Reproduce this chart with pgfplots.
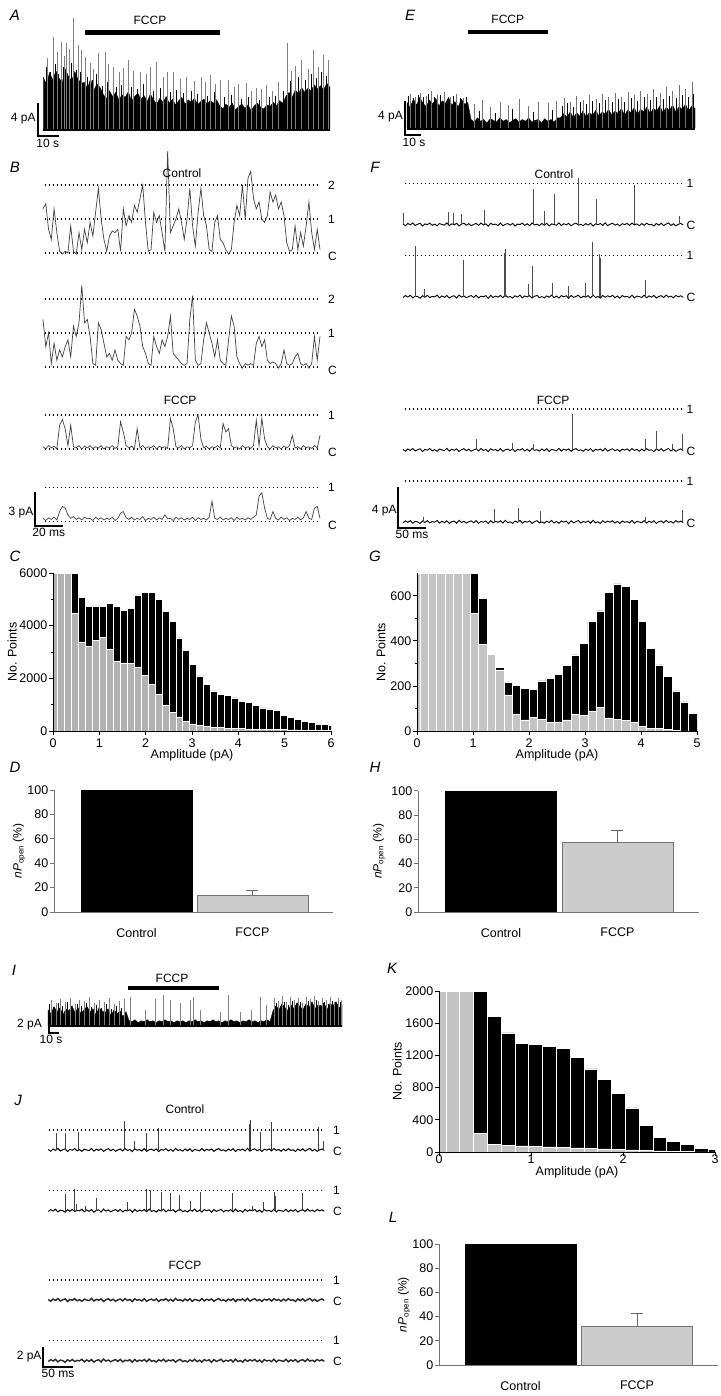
\documentclass[border=0pt]{standalone}
\usepackage{fontspec}
\setmainfont{Liberation Sans}
\usepackage{pgfplots}
\usepackage{pgfplotstable}
\pgfplotsset{compat=1.18}
\definecolor{hgray}{RGB}{178,178,178}
\definecolor{ggray}{RGB}{196,196,196}
\definecolor{bgray}{RGB}{204,204,204}
\tikzset{pl/.style={font=\fontsize{15}{15}\selectfont\itshape, anchor=center},
  lab/.style={anchor=west, inner sep=0pt}}
\pgfplotsset{
  trace/.style={hide axis, enlargelimits=false, clip=false, anchor=origin},
  lev/.style={black, line width=1.1pt, dash pattern=on 1.1pt off 2.9pt},
  tr/.style={black!75, line width=0.7pt},
  hist/.style={scale only axis, anchor=south west, axis lines=left, axis line style={-, line width=0.8pt},
    axis on top, tick align=outside, major tick length=4pt, minor tick length=2.5pt,
    tick style={black, line width=0.8pt}, enlargelimits=false,
    tick label style={font=\fontsize{12.5}{13}\selectfont}, label style={font=\fontsize{12.5}{13}\selectfont},
    yticklabel style={inner sep=1.5pt},
    /pgf/number format/assume math mode=true, /pgf/number format/1000 sep={},
    xlabel style={at={(rel axis cs:0.5,0)}, anchor=center, yshift=-24pt}},
  barax/.style={scale only axis, anchor=south west, axis lines=left, axis line style={-, black!55, line width=0.8pt},
    axis on top, tick align=outside, major tick length=4pt, ytick style={black!55, line width=0.8pt},
    xtick style={draw=none}, enlargelimits=false, ymin=0, ymax=100, ytick={0,20,40,60,80,100},
    xtick={1,2}, xticklabels={Control,FCCP}, tick label style={font=\fontsize{12.5}{13}\selectfont},
    xticklabel style={yshift=-8pt}, yticklabel style={inner sep=1.5pt},
    /pgf/number format/assume math mode=true,
    ylabel={\textit{nP}\textsubscript{open} (\%)}, label style={font=\fontsize{12}{13}\selectfont}, clip=false},
  ebar/.style={ybar, bar shift=0pt, bar width=111pt, fill=bgray, draw=black!55, line width=0.8pt,
    error bars/.cd, y dir=plus, y explicit, error bar style={black!60, line width=0.8pt},
    error mark options={rotate=90, black!60, mark size=6pt, line width=0.8pt}}
}
\begin{document}
\pgfplotstableread[row sep=\\]{y\\0.05\\-0.12\\0.10\\-0.04\\0.15\\-0.10\\0.02\\0.12\\-0.15\\0.06\\-0.02\\0.14\\-0.08\\0.04\\-0.13\\0.09\\0.00\\-0.06\\0.16\\-0.11\\0.07\\-0.03\\0.11\\-0.14\\0.03\\0.13\\-0.07\\0.08\\-0.12\\0.01\\0.10\\-0.09\\0.15\\-0.05\\0.06\\-0.16\\0.12\\-0.02\\0.04\\-0.10\\0.14\\-0.13\\0.02\\0.09\\-0.06\\0.11\\-0.15\\0.05\\-0.01\\0.13\\-0.09\\0.07\\-0.12\\0.16\\-0.04\\0.03\\-0.11\\0.10\\-0.07\\0.12\\-0.14\\0.06\\0.00\\-0.08\\0.15\\-0.10\\0.08\\-0.03\\0.11\\-0.13\\0.04\\0.14\\-0.06\\0.02\\-0.12\\0.09\\-0.05\\0.13\\-0.15\\0.07\\-0.02\\0.10\\-0.09\\0.16\\-0.11\\0.03\\0.12\\-0.07\\0.05\\-0.14\\0.08\\-0.01\\0.11\\-0.10\\0.14\\-0.04\\0.06\\-0.12\\0.09\\-0.08\\0.13\\-0.03\\0.02\\-0.15\\0.10\\-0.06\\0.12\\-0.11\\0.04\\0.15\\-0.09\\0.07\\-0.13\\0.01\\0.11\\-0.05\\}\noiseA
\pgfplotstableread[row sep=\\]{y\\-0.08\\0.11\\-0.03\\0.14\\-0.12\\0.06\\0.01\\-0.15\\0.10\\-0.05\\0.13\\-0.09\\0.04\\-0.02\\0.15\\-0.11\\0.08\\-0.06\\0.12\\-0.14\\0.03\\0.09\\-0.13\\0.16\\-0.04\\0.07\\-0.10\\0.02\\0.11\\-0.07\\0.14\\-0.12\\0.05\\-0.01\\0.10\\-0.15\\0.13\\-0.08\\0.06\\-0.03\\0.12\\-0.10\\0.16\\-0.06\\0.02\\-0.13\\0.09\\-0.04\\0.15\\-0.11\\0.07\\-0.02\\0.10\\-0.14\\0.04\\0.13\\-0.09\\0.01\\-0.12\\0.08\\-0.05\\0.15\\-0.10\\0.06\\-0.13\\0.11\\-0.01\\0.09\\-0.16\\0.12\\-0.07\\0.03\\0.14\\-0.11\\0.05\\-0.04\\0.10\\-0.12\\0.16\\-0.08\\0.02\\-0.14\\0.12\\-0.06\\0.09\\-0.02\\0.13\\-0.10\\0.07\\-0.15\\0.11\\-0.03\\0.04\\-0.09\\0.15\\-0.12\\0.06\\0.00\\-0.07\\0.14\\-0.11\\0.08\\-0.05\\0.12\\-0.13\\0.03\\0.10\\-0.08\\0.16\\-0.04\\0.05\\-0.10\\0.13\\-0.02\\0.09\\-0.06\\}\noiseB
\pgfplotstableread[row sep=\\]{y\\6.2\\5.4\\6.8\\5.9\\7.0\\6.1\\5.6\\7.2\\6.3\\5.8\\6.9\\6.0\\5.5\\5.6\\4.9\\6.0\\4.6\\5.4\\5.0\\4.2\\3.6\\4.6\\3.9\\4.4\\3.5\\4.1\\3.8\\4.5\\3.4\\3.9\\4.3\\3.6\\4.0\\3.3\\4.2\\3.5\\3.0\\3.7\\3.2\\3.9\\3.1\\3.6\\2.9\\3.4\\3.8\\3.0\\3.5\\3.2\\3.7\\2.9\\3.3\\3.6\\3.0\\3.4\\3.1\\3.5\\2.8\\2.4\\3.0\\2.6\\3.1\\2.3\\2.7\\3.0\\2.5\\2.9\\2.2\\2.8\\3.1\\2.6\\2.4\\2.9\\2.7\\3.2\\2.8\\3.4\\3.1\\3.9\\4.4\\3.8\\4.7\\4.2\\5.0\\4.4\\4.9\\4.6\\5.3\\4.8\\5.2\\4.7\\5.5\\5.0\\}\envA
\pgfplotstableread[row sep=\\]{y\\3.0\\2.4\\3.4\\2.7\\3.6\\2.9\\2.5\\3.3\\2.8\\3.5\\2.6\\3.2\\2.9\\3.6\\2.7\\3.1\\2.5\\3.4\\2.8\\3.0\\1.0\\0.7\\1.2\\0.8\\1.0\\0.6\\1.1\\0.9\\0.7\\1.2\\0.8\\1.0\\0.6\\0.9\\1.1\\0.7\\1.0\\0.8\\1.2\\0.7\\0.9\\1.0\\0.6\\1.1\\0.8\\1.0\\0.7\\1.2\\1.2\\1.7\\1.3\\1.9\\1.2\\1.8\\1.4\\2.0\\1.3\\1.8\\1.5\\2.1\\1.4\\1.9\\1.6\\2.2\\1.5\\2.0\\1.7\\2.3\\1.5\\2.1\\1.8\\2.4\\1.6\\2.2\\1.9\\2.5\\1.7\\2.3\\2.0\\2.6\\1.8\\2.4\\2.1\\2.7\\1.9\\2.5\\2.2\\2.8\\2.0\\2.6\\2.3\\}\envE
\pgfplotstableread[row sep=\\]{y\\1.6\\1.2\\1.9\\1.4\\1.8\\1.1\\1.7\\1.5\\2.0\\1.3\\1.8\\1.2\\1.6\\1.9\\1.4\\1.7\\1.1\\1.8\\1.5\\1.3\\1.7\\1.0\\1.6\\1.2\\1.5\\0.9\\1.4\\0.5\\0.4\\0.6\\0.3\\0.5\\0.4\\0.6\\0.4\\0.5\\0.3\\0.5\\0.4\\0.6\\0.4\\0.5\\0.3\\0.5\\0.4\\0.5\\0.3\\0.5\\0.4\\0.6\\0.4\\0.5\\0.3\\0.5\\0.4\\0.6\\0.4\\0.5\\0.3\\0.5\\0.4\\0.6\\0.4\\0.5\\0.3\\0.5\\0.4\\0.6\\0.4\\0.5\\0.3\\0.5\\0.4\\0.6\\0.4\\1.5\\2.0\\1.6\\2.2\\1.8\\1.5\\2.1\\1.7\\2.3\\1.9\\1.6\\2.2\\1.8\\2.4\\1.7\\2.1\\1.9\\2.3\\1.6\\2.2\\2.0\\2.4\\1.8\\2.1\\}\envI
\fontsize{12}{13}\selectfont
\begin{tikzpicture}
\path[use as bounding box] (0pt,0pt) rectangle (720pt,-1396pt);
\node[pl] at (15pt,-15pt) {A};
\node[pl] at (15pt,-167pt) {B};
\node[pl] at (15pt,-556pt) {C};
\node[pl] at (15pt,-767pt) {D};
\node[pl] at (410pt,-15pt) {E};
\node[pl] at (375pt,-167pt) {F};
\node[pl] at (375pt,-556pt) {G};
\node[pl] at (375pt,-767pt) {H};
\node[pl] at (14pt,-970pt) {I};
\node[pl] at (18pt,-1100pt) {J};
\node[pl] at (392pt,-968pt) {K};
\node[pl] at (393pt,-1217pt) {L};

% ---------------- A
\begin{axis}[trace, x=2.1pt, y=8.33pt, at={(43.3pt,-129pt)}, xmin=-10, xmax=140, ymin=-1.5, ymax=14]
\addplot[fill=black, draw=black, line width=0.3pt] table[x expr=\coordindex*1.5, y=y] {\envA} \closedcycle;
\addplot[ycomb, black, line width=0.5pt] coordinates {(1.2,7.4)(3.1,6.9)(5.5,7.8)(7.3,6.6)(9.6,7.5)(13.2,7.9)(15.5,7.1)(17.4,6.8)(21.1,6.2)(23.5,5.9)(25.3,6.6)(28.2,5.2)(30.4,5.6)(34.6,5.0)(37.1,5.3)(41.7,5.1)(44.6,4.8)(47.5,5.4)(52.3,4.6)(55.6,4.9)(60.4,4.4)(63.2,4.7)(66.8,4.3)(70.5,4.6)(73.4,4.2)(78.1,4.0)(81.3,4.4)(86.2,3.8)(89.6,4.1)(94.3,3.6)(97.6,3.9)(102.7,3.5)(107.5,3.8)(110.6,4.0)(114.2,4.6)(117.4,5.8)(121.6,6.3)(124.5,5.9)(127.4,6.6)(130.2,6.1)(132.5,6.8)(134.6,6.4)};
\addplot[ycomb, black!50, line width=0.5pt] coordinates {(2,8.5)(4.8,11.1)(6.5,9.2)(8.7,10.5)(10,8.8)(11.1,10.3)(12.5,9.6)(14.3,13.3)(16.7,10.1)(18.3,9.5)(20,8.6)(22.2,7.9)(24,7.2)(26.2,9.1)(29.4,9.3)(31,7.8)(33.3,7.5)(36,6.8)(38,7.3)(40.5,8.3)(43,7.0)(46,6.9)(49,6.6)(51,7.4)(54,8.1)(57,6.2)(59,6.8)(61.9,6.9)(65,6.0)(68.3,6.3)(72,5.8)(75,6.2)(77,5.6)(79.4,6.5)(82,5.4)(84.1,5.9)(88.1,5.9)(91,5.0)(93,5.4)(96.8,5.5)(99,4.6)(101.6,4.9)(104,4.8)(106.4,5.3)(109,4.6)(112,5.6)(116.2,10.3)(118,7.0)(120,7.6)(123,8.3)(126,7.2)(128.6,9.5)(131,7.4)(133.3,8.9)(135.7,8.3)};
\addplot[black, line width=2pt] coordinates {(0,-0.1)(136.5,-0.1)};
\addplot[black, line width=4.5pt] coordinates {(19.9,11.6)(84.1,11.6)};
\addplot[black, line width=2.2pt] coordinates {(-2.5,3.16)(-2.5,-0.84)(7.5,-0.84)};
\node at (axis cs:50.8,13.1) {FCCP};
\node[anchor=east, inner sep=0pt] at (axis cs:-3.6,1.3) {4 pA};
\node[anchor=north, inner sep=1pt] at (axis cs:2.1,-1.1) {10 s};
\end{axis}

% ---------------- E
\begin{axis}[trace, x=1.6pt, y=8.5pt, at={(407pt,-128pt)}, xmin=-10, xmax=185, ymin=-1.5, ymax=14]
\addplot[fill=black, draw=black, line width=0.3pt] table[x expr=\coordindex*2, y=y] {\envE} \closedcycle;
\addplot[ycomb, black, line width=0.5pt] coordinates {(1,3.8)(4,3.5)(7,3.9)(10,3.6)(13,4.0)(17,3.7)(21,3.9)(25,3.4)(29,3.8)(33,3.5)(37,3.6)(45,2.0)(55,1.8)(66,2.2)(79,1.9)(91,2.1)(97,2.6)(100,2.9)(104,2.5)(108,3.0)(112,2.8)(116,3.2)(120,2.9)(124,3.3)(128,3.0)(132,3.4)(136,3.1)(140,3.5)(144,3.2)(148,3.6)(152,3.3)(156,3.7)(160,3.4)(164,3.8)(168,3.5)(172,3.9)(176,3.6)(179,4.0)};
\addplot[ycomb, black!55, line width=0.5pt] coordinates {(2,4.0)(5,3.6)(8,4.1)(12,3.8)(15,4.3)(19,3.9)(23,4.2)(27,3.7)(31,4.0)(35,3.5)(42,2.8)(47,3.3)(52,2.5)(58,3.1)(63,2.7)(70,3.4)(76,2.6)(82,3.0)(88,2.9)(93,3.2)(98,3.5)(102,3.0)(106,3.8)(110,3.3)(114,3.9)(118,3.4)(122,4.0)(126,3.6)(130,4.1)(134,3.7)(138,4.2)(142,3.9)(146,4.4)(150,4.0)(154,4.6)(158,4.1)(162,4.8)(166,4.3)(170,5.0)(174,4.6)(178,5.4)};
\addplot[black, line width=2pt] coordinates {(0,-0.1)(180,-0.1)};
\addplot[black, line width=4.5pt] coordinates {(38,11.3)(88,11.3)};
\addplot[black, line width=2.2pt] coordinates {(-1.25,3.18)(-1.25,-0.82)(8.75,-0.82)};
\node at (axis cs:63,12.8) {FCCP};
\node[anchor=east, inner sep=0pt] at (axis cs:-2.5,1.3) {4 pA};
\node[anchor=north, inner sep=1pt] at (axis cs:4.4,-1.1) {10 s};
\end{axis}

% ---------------- B
\begin{axis}[trace, x=1.385pt, y=11.33pt, at={(43pt,-253pt)}, xmin=-10, xmax=220, ymin=-1, ymax=10]
\addplot[lev] coordinates {(1.4,0)(200,0)};
\addplot[lev] coordinates {(1.4,3)(200,3)};
\addplot[lev] coordinates {(1.4,6)(200,6)};
\addplot[tr] table[row sep=\\, x expr=\coordindex*2, y=y] {y\\3.9\\4.35\\2.1\\1.2\\3.9\\1.8\\0.15\\-0.1\\0.15\\0\\2.4\\0.15\\-0.1\\1.8\\0.3\\2.1\\0.9\\2.7\\1.5\\3.6\\5.7\\3\\1.2\\0.15\\1.5\\1.95\\1.8\\2.1\\0.15\\3.9\\2.4\\3.3\\2.7\\4.2\\3.6\\4.8\\6\\2.7\\0.15\\0.3\\3.6\\2.7\\3.3\\1.8\\0.15\\9\\1.8\\2.4\\3\\3.9\\2.7\\1.2\\3\\5.7\\2.4\\0.6\\3.6\\5.7\\3.3\\2.4\\0.3\\0.15\\2.7\\3.3\\1.2\\0.9\\0.3\\-0.1\\0.3\\2.7\\4.2\\3.3\\6\\3\\6.6\\7.2\\4.8\\3.9\\4.5\\3\\2.7\\3.3\\5.4\\4.5\\5.1\\3.9\\4.5\\3.3\\0.9\\0.15\\0.3\\2.4\\0.3\\1.8\\0.6\\2.4\\4.5\\1.8\\0.3\\2.1\\0.3\\};
\node[lab] at (axis cs:205.8,6) {2};
\node[lab] at (axis cs:205.8,3) {1};
\node[lab] at (axis cs:205.8,-0.3) {C};
\node at (axis cs:100.4,7.0) {Control};
\end{axis}
\begin{axis}[trace, x=1.385pt, y=11.33pt, at={(43pt,-367pt)}, xmin=-10, xmax=220, ymin=-1, ymax=10]
\addplot[lev] coordinates {(1.4,0)(200,0)};
\addplot[lev] coordinates {(1.4,3)(200,3)};
\addplot[lev] coordinates {(1.4,6)(200,6)};
\addplot[tr] table[row sep=\\, x expr=\coordindex*2, y=y] {y\\4.2\\1.8\\3\\0.3\\2.1\\0.6\\1.5\\0.9\\1.8\\2.4\\0.9\\3.6\\2.7\\3.9\\7.2\\3.9\\4.2\\2.7\\0.3\\0.15\\3.9\\3.3\\2.1\\0.9\\1.2\\0.6\\1.5\\0.6\\0.3\\0.15\\2.7\\2.4\\3\\5.1\\4.5\\3.6\\1.8\\1.2\\0.3\\0.15\\2.7\\1.8\\1.2\\2.4\\1.8\\2.7\\4.5\\1.2\\0.9\\0.6\\0.3\\0.15\\0.3\\4.2\\6.3\\0.6\\0.15\\0.3\\2.4\\3.9\\3\\2.1\\0.9\\2.4\\0.6\\0.3\\0.15\\2.4\\4.5\\3.6\\0.9\\0.3\\-0.1\\0.3\\0.15\\0.3\\0.15\\2.1\\2.7\\1.8\\2.4\\0.6\\0.3\\0.45\\0.3\\-0.1\\0.3\\1.5\\0.3\\0.15\\0.3\\0.9\\1.2\\0.3\\0.15\\0.3\\-0.1\\0.3\\2.7\\0.6\\2.7\\};
\node[lab] at (axis cs:205.8,6) {2};
\node[lab] at (axis cs:205.8,3) {1};
\node[lab] at (axis cs:205.8,-0.3) {C};
\end{axis}
\begin{axis}[trace, x=1.385pt, y=11.33pt, at={(43pt,-449pt)}, xmin=-10, xmax=220, ymin=-1, ymax=6]
\addplot[lev] coordinates {(1.4,0)(200,0)};
\addplot[lev] coordinates {(1.4,3)(200,3)};
\addplot[tr] table[row sep=\\, x expr=\coordindex*2, y=y] {y\\0.2\\0.0\\0.3\\0.1\\0.25\\0.0\\2.1\\2.6\\1.8\\0.3\\2.1\\0.2\\0.1\\0.3\\0.0\\0.25\\0.1\\0.3\\0.05\\0.2\\0.1\\0.3\\0.0\\0.2\\0.1\\0.3\\0.05\\0.2\\2.4\\1.5\\0.3\\0.1\\0.25\\0.0\\1.8\\0.1\\0.3\\0.05\\0.2\\0.1\\0.3\\0.0\\0.25\\0.1\\0.2\\0.05\\2.7\\1.8\\0.2\\0.1\\0.3\\0.0\\0.2\\0.1\\0.3\\2.4\\3.0\\0.9\\0.1\\0.25\\0.0\\0.2\\0.1\\0.3\\0.1\\2.25\\1.5\\1.8\\0.3\\0.1\\0.2\\0.0\\0.3\\0.1\\0.2\\0.05\\0.3\\2.55\\0.3\\2.7\\0.9\\0.2\\0.0\\0.3\\0.1\\0.2\\0.0\\0.25\\0.1\\0.3\\1.2\\0.1\\0.2\\0.0\\0.3\\0.1\\0.2\\0.05\\0.3\\0.1\\1.2\\};
\node[lab] at (axis cs:205.8,3) {1};
\node[lab] at (axis cs:205.8,-0.3) {C};
\node at (axis cs:99,4.26) {FCCP};
\end{axis}
\begin{axis}[trace, x=1.385pt, y=11.33pt, at={(43pt,-521.7pt)}, xmin=-10, xmax=220, ymin=-1, ymax=6]
\addplot[lev] coordinates {(1.4,0)(200,0)};
\addplot[lev] coordinates {(1.4,3)(200,3)};
\addplot[tr] table[row sep=\\, x expr=\coordindex*2, y=y] {y\\0.3\\0.1\\0.35\\0.2\\0.4\\0.15\\0.9\\1.35\\1.2\\0.6\\0.3\\0.45\\0.2\\0.35\\0.15\\0.4\\0.25\\0.3\\0.1\\0.4\\0.2\\0.35\\0.15\\0.3\\0.2\\0.4\\0.1\\0.3\\0.75\\0.9\\0.35\\0.2\\0.4\\0.15\\0.3\\0.2\\0.45\\0.1\\0.3\\0.2\\0.4\\0.15\\0.35\\0.2\\0.6\\0.25\\0.3\\0.1\\0.4\\0.2\\0.35\\0.15\\0.3\\0.2\\0.4\\0.1\\0.35\\0.2\\0.3\\0.15\\0.4\\1.8\\0.3\\0.2\\0.4\\0.15\\0.3\\0.2\\0.35\\0.1\\0.4\\0.2\\0.3\\0.15\\0.35\\0.2\\0.4\\0.6\\2.25\\2.55\\1.2\\0.3\\0.2\\0.9\\0.3\\0.15\\0.4\\0.2\\0.35\\0.1\\0.3\\0.2\\0.4\\0.15\\0.35\\0.9\\0.3\\0.2\\1.2\\1.35\\0.3\\};
\addplot[black, line width=2.2pt] coordinates {(-5.8,2.65)(-5.8,-0.35)(14.2,-0.35)};
\node[lab] at (axis cs:205.8,3) {1};
\node[lab] at (axis cs:205.8,-0.3) {C};
\node[anchor=east, inner sep=0pt] at (axis cs:-6.8,0.77) {3 pA};
\node[anchor=north, inner sep=1pt] at (axis cs:4.2,-0.5) {20 ms};
\end{axis}

% ---------------- F
\begin{axis}[trace, x=0.56pt, y=10.25pt, at={(403pt,-224.5pt)}, xmin=-20, xmax=530, ymin=-1, ymax=6]
\addplot[lev] coordinates {(3.6,4)(500,4)};
\addplot[black, line width=0.9pt] table[x expr=\coordindex*4.35, y=y] {\noiseA};
\addplot[ycomb, black!70, line width=0.6pt] coordinates {(0.5,1.1)(81,1.2)(89,1.1)(103.6,1.0)(146,1.45)(233,3.5)(252,1.35)(270,2.95)(313,4.55)(345,2.5)(412.5,3.9)(493,0.8)};
\node[lab] at (axis cs:506,4) {1};
\node[lab] at (axis cs:506,-0.1) {C};
\node at (axis cs:269.6,4.93) {Control};
\end{axis}
\begin{axis}[trace, x=0.56pt, y=10.25pt, at={(403pt,-296.7pt)}, xmin=-20, xmax=530, ymin=-1, ymax=6]
\addplot[lev] coordinates {(3.6,4)(500,4)};
\addplot[black, line width=0.9pt] table[x expr=\coordindex*4.35, y=y] {\noiseB};
\addplot[ycomb, black!70, line width=0.6pt] coordinates {(22,4.9)(37.5,0.8)(107.7,3.6)(181,4.3)(182,4.65)(183.5,4.0)(224,1.2)(231.5,3.0)(267,1.3)(295,1.05)(325.6,1.3)(338.7,5.3)(350,4.0)(350.6,4.15)(351.5,3.8)(432,1.6)};
\node[lab] at (axis cs:506,4) {1};
\node[lab] at (axis cs:506,-0.1) {C};
\end{axis}
\begin{axis}[trace, x=0.56pt, y=10.25pt, at={(403pt,-450pt)}, xmin=-20, xmax=530, ymin=-1, ymax=6]
\addplot[lev] coordinates {(3.6,4)(500,4)};
\addplot[black, line width=0.9pt] table[x expr=\coordindex*4.35, y=y] {\noiseA};
\addplot[ycomb, black!70, line width=0.6pt] coordinates {(130,1.1)(196,0.7)(233,0.6)(302,3.5)(432,1.1)(453,1.9)(480,0.6)(498,1.6)};
\node[lab] at (axis cs:506,4) {1};
\node[lab] at (axis cs:506,-0.1) {C};
\node at (axis cs:268,4.88) {FCCP};
\end{axis}
\begin{axis}[trace, x=0.56pt, y=10.25pt, at={(403pt,-522pt)}, xmin=-20, xmax=530, ymin=-1, ymax=6]
\addplot[lev] coordinates {(3.6,4)(500,4)};
\addplot[black, line width=0.9pt] table[x expr=\coordindex*4.35, y=y] {\noiseB};
\addplot[ycomb, black!70, line width=0.6pt] coordinates {(36,0.5)(163,1.25)(206.5,1.4)(246,1.1)(432,0.5)(498,1.2)};
\addplot[black, line width=2.2pt] coordinates {(-8.9,3.41)(-8.9,-0.59)(41.1,-0.59)};
\node[lab] at (axis cs:506,4) {1};
\node[lab] at (axis cs:506,-0.1) {C};
\node[anchor=east, inner sep=0pt] at (axis cs:-11,1.1) {4 pA};
\node[anchor=north, inner sep=1pt] at (axis cs:16,-0.7) {50 ms};
\end{axis}

% ---------------- C histogram
\begin{axis}[hist, at={(53pt,-731pt)}, width=278pt, height=158pt, xmin=0, xmax=6, ymin=0, ymax=6000,
  xtick={0,1,2,3,4,5,6}, ytick={0,2000,4000,6000}, minor ytick={1000,3000,5000},
  xlabel={Amplitude (pA)}, ylabel={No. Points}, ylabel style={at={(rel axis cs:-0.147,0.5)}, anchor=center}]
\addplot[ybar interval, fill=black, draw=white, line width=0.5pt] coordinates {(-0.05,6000)(0.10,6000)(0.25,6000)(0.40,6000)(0.55,5070)(0.70,4740)(0.85,4740)(1.00,4740)(1.15,4850)(1.30,4740)(1.45,4590)(1.60,4650)(1.75,5170)(1.90,5260)(2.05,5260)(2.20,4990)(2.35,4530)(2.50,4160)(2.65,3540)(2.80,3070)(2.95,2520)(3.10,2090)(3.25,1760)(3.40,1520)(3.55,1400)(3.70,1340)(3.85,1260)(4.00,1130)(4.15,1100)(4.30,980)(4.45,880)(4.60,840)(4.75,775)(4.90,590)(5.05,515)(5.20,430)(5.35,370)(5.50,315)(5.65,270)(5.80,260)(5.95,200)(6.10,200)};
\addplot[ybar interval, fill=hgray, draw=white, line width=0.5pt] coordinates {(-0.05,6000)(0.10,6000)(0.25,6000)(0.40,4480)(0.55,3360)(0.70,3210)(0.85,3440)(1.00,3550)(1.15,3100)(1.30,2650)(1.45,2560)(1.60,2560)(1.75,2420)(1.90,2120)(2.05,1770)(2.20,1380)(2.35,980)(2.50,720)(2.65,540)(2.80,370)(2.95,270)(3.10,200)(3.25,165)(3.40,140)(3.55,125)(3.70,110)(3.85,100)(4.00,90)(4.15,80)(4.30,75)(4.45,70)(4.60,60)(4.75,55)(4.90,50)(5.05,45)(5.20,40)(5.35,35)(5.50,30)(5.65,25)(5.80,20)(5.95,15)(6.10,15)};
\end{axis}

% ---------------- G histogram
\begin{axis}[hist, at={(417pt,-731pt)}, width=280pt, height=157.7pt, xmin=0, xmax=5, ymin=0, ymax=700,
  xtick={0,1,2,3,4,5}, ytick={0,200,400,600}, minor ytick={100,300,500},
  xlabel={Amplitude (pA)}, ylabel={No. Points}, ylabel style={at={(rel axis cs:-0.129,0.5)}, anchor=center}]
\addplot[ybar interval, fill=black, draw=white, line width=0.5pt] coordinates {(-0.10,700)(0.05,700)(0.20,700)(0.35,700)(0.50,700)(0.65,700)(0.80,700)(0.95,700)(1.10,590)(1.25,345)(1.40,283)(1.55,216)(1.70,204)(1.85,190)(2.00,185)(2.15,222)(2.30,234)(2.45,252)(2.60,290)(2.75,338)(2.90,390)(3.05,486)(3.20,533)(3.35,616)(3.50,653)(3.65,641)(3.80,585)(3.95,486)(4.10,366)(4.25,293)(4.40,243)(4.55,178)(4.70,129)(4.85,79)(5.00,79)};
\addplot[ybar interval, fill=ggray, draw=white, line width=0.5pt] coordinates {(-0.10,700)(0.05,700)(0.20,700)(0.35,700)(0.50,700)(0.65,700)(0.80,700)(0.95,523)(1.10,385)(1.25,341)(1.40,271)(1.55,160)(1.70,74)(1.85,49)(2.00,59)(2.15,52)(2.30,37)(2.45,41)(2.60,49)(2.75,73)(2.90,70)(3.05,86)(3.20,104)(3.35,58)(3.50,52)(3.65,47)(3.80,39)(3.95,22)(4.10,12)(4.25,12)(4.40,7)(4.55,4)(4.70,1)(4.85,0)(5.00,0)};
\end{axis}

% ---------------- D, H bar charts
\begin{axis}[barax, at={(54pt,-912pt)}, width=279pt, height=122pt, xmin=0.289, xmax=2.694,
  ylabel style={at={(rel axis cs:-0.125,0.5)}, anchor=center}]
\addplot[ybar, bar shift=0pt, bar width=111pt, fill=black, draw=black] coordinates {(1,100)};
\addplot[ebar] coordinates {(2,13.5) +- (0,4.5)};
\end{axis}
\begin{axis}[barax, at={(418pt,-912pt)}, width=281pt, height=121.3pt, xmin=0.288, xmax=2.70,
  ylabel style={at={(rel axis cs:-0.139,0.5)}, anchor=center}]
\addplot[ybar, bar shift=0pt, bar width=111pt, fill=black, draw=black] coordinates {(1,100)};
\addplot[ebar] coordinates {(2,57.5) +- (0,9.5)};
\end{axis}

% ---------------- I
\begin{axis}[trace, x=1pt, y=10pt, at={(48pt,-1025.7pt)}, xmin=-10, xmax=300, ymin=-1.5, ymax=6]
\addplot[fill=black, draw=black, line width=0.3pt] table[x expr=\coordindex*3, y=y] {\envI} \closedcycle;
\addplot[ycomb, black!50, line width=0.5pt] coordinates {(3,2.6)(8,2.3)(12,2.7)(17,2.4)(22,2.8)(27,2.2)(31,2.6)(36,2.5)(41,2.9)(46,2.3)(51,2.6)(56,2.4)(61,2.8)(66,2.2)(71,2.5)(76,2.7)(82,2.9)(97,1.6)(107,2.7)(115.3,3.1)(122,2.6)(132,2.3)(142,2.6)(145.3,2.9)(152,1.6)(172,1.4)(180.3,3.1)(192,1.4)(203.7,1.6)(212,2.9)(218.7,2.1)(226,2.8)(230,2.5)(234,3.0)(238,2.4)(242,2.9)(246,2.6)(250,2.8)(254,2.3)(258,2.9)(262,2.7)(266,3.0)(270,2.5)(274,2.8)(278,2.6)(282,2.9)(286,2.4)(290,2.8)(293,2.6)};
\addplot[ycomb, black, line width=0.5pt] coordinates {(1.5,2.2)(5.5,1.9)(10.5,2.3)(14.5,2.0)(19.5,2.4)(24.5,1.8)(29.5,2.2)(33.5,2.0)(38.5,2.3)(43.5,1.9)(48.5,2.1)(53.5,1.8)(58.5,2.2)(63.5,1.7)(68.5,2.0)(73.5,1.8)(228,2.3)(232,2.0)(236,2.4)(240,2.1)(244,2.5)(248,2.2)(252,2.4)(256,2.0)(260,2.5)(264,2.2)(268,2.6)(272,2.1)(276,2.4)(280,2.2)(284,2.5)(288,2.1)(292,2.4)};
\addplot[black, line width=2pt] coordinates {(0,-0.05)(294,-0.05)};
\addplot[black, line width=4.5pt] coordinates {(80,3.77)(171,3.77)};
\addplot[black, line width=2.2pt] coordinates {(1,1.27)(1,-0.73)(11,-0.73)};
\node at (axis cs:124,4.77) {FCCP};
\node[anchor=east, inner sep=0pt] at (axis cs:-6,0.07) {2 pA};
\node[anchor=north, inner sep=1pt] at (axis cs:3,-0.85) {10 s};
\end{axis}

% ---------------- J
\begin{axis}[trace, x=0.6pt, y=10pt, at={(48.3pt,-1150pt)}, xmin=-20, xmax=500, ymin=-1, ymax=5]
\addplot[lev] coordinates {(1.2,2)(461,2)};
\addplot[black, line width=1pt] table[x expr=\coordindex*4, y=y] {\noiseA};
\addplot[ycomb, black!75, line width=0.6pt] coordinates {(12.8,1.72)(27.8,1.66)(50,1.8)(126,2.9)(143.4,0.9)(162.8,1.66)(183.4,2.2)(335,2.6)(336,3.0)(337,2.8)(354,1.8)(372.4,2.85)(450,2.3)(459,0.9)};
\node[lab] at (axis cs:474.5,2) {1};
\node[lab] at (axis cs:474.5,-0.1) {C};
\node at (axis cs:227.8,4.1) {Control};
\end{axis}
\begin{axis}[trace, x=0.6pt, y=10pt, at={(48.3pt,-1210.7pt)}, xmin=-20, xmax=500, ymin=-1, ymax=5]
\addplot[lev] coordinates {(1.2,2)(461,2)};
\addplot[black, line width=1pt] table[x expr=\coordindex*4, y=y] {\noiseB};
\addplot[ycomb, black!75, line width=0.6pt] coordinates {(29,1.67)(42.8,2.17)(47.2,0.67)(61.2,0.5)(80.6,1.23)(132.3,0.83)(162.8,2.17)(170.6,2.07)(189,1.83)(202.9,1.73)(217.9,1.6)(236.2,1.0)(252.9,1.83)(307.4,1.73)(340.7,0.5)(358.4,0.83)(376.2,1.83)(378,1.5)(424,1.73)};
\node[lab] at (axis cs:474.5,2) {1};
\node[lab] at (axis cs:474.5,-0.1) {C};
\end{axis}
\begin{axis}[trace, x=0.6pt, y=10pt, at={(48.3pt,-1300pt)}, xmin=-20, xmax=500, ymin=-1, ymax=5]
\addplot[lev] coordinates {(1.2,2)(461,2)};
\addplot[black!85, line width=1.4pt] table[x expr=\coordindex*4, y=y] {\noiseA};
\node[lab] at (axis cs:474.5,2) {1};
\node[lab] at (axis cs:474.5,-0.1) {C};
\node at (axis cs:227.8,3.5) {FCCP};
\end{axis}
\begin{axis}[trace, x=0.6pt, y=10pt, at={(48.3pt,-1360.7pt)}, xmin=-20, xmax=500, ymin=-1, ymax=5]
\addplot[lev] coordinates {(1.2,2)(461,2)};
\addplot[black!85, line width=1.4pt] table[x expr=\coordindex*4, y=y] {\noiseB};
\addplot[black, line width=2.5pt] coordinates {(-8.8,1.37)(-8.8,-0.63)(41.2,-0.63)};
\node[lab] at (axis cs:474.5,2) {1};
\node[lab] at (axis cs:474.5,-0.1) {C};
\node[anchor=east, inner sep=0pt] at (axis cs:-11,0.37) {2 pA};
\node[anchor=north, inner sep=1pt] at (axis cs:16.2,-0.75) {50 ms};
\end{axis}

% ---------------- K histogram
\begin{axis}[hist, at={(439pt,-1152pt)}, width=276pt, height=161pt, xmin=0, xmax=3, ymin=0, ymax=2000,
  xtick={0,1,2,3}, ytick={0,400,800,1200,1600,2000}, xticklabel style={yshift=5pt},
  xlabel={Amplitude (pA)}, xlabel style={yshift=3.3pt}, ylabel={No. Points}, ylabel style={at={(rel axis cs:-0.152,0.5)}, anchor=center}]
\addplot[ybar interval, fill=black, draw=white, line width=0.5pt] coordinates {(-0.075,2000)(0.075,2000)(0.225,2000)(0.375,2000)(0.525,1688)(0.675,1479)(0.825,1354)(0.975,1333)(1.125,1310)(1.275,1290)(1.425,1180)(1.575,1033)(1.725,900)(1.875,730)(2.025,548)(2.175,330)(2.325,186)(2.475,132)(2.625,91)(2.775,49)(2.925,33)(3.075,33)};
\addplot[ybar interval, fill=ggray, draw=white, line width=0.5pt] coordinates {(-0.075,2000)(0.075,2000)(0.225,2000)(0.375,235)(0.525,91)(0.675,80)(0.825,75)(0.975,70)(1.125,65)(1.275,58)(1.425,52)(1.575,46)(1.725,40)(1.875,35)(2.025,28)(2.175,20)(2.325,15)(2.475,10)(2.625,6)(2.775,3)(2.925,2)(3.075,2)};
\end{axis}

% ---------------- L bar chart
\begin{axis}[barax, at={(439pt,-1365pt)}, width=279pt, height=121pt, xmin=0.30, xmax=2.695,
  ylabel style={at={(rel axis cs:-0.125,0.5)}, anchor=center}]
\addplot[ybar, bar shift=0pt, bar width=111pt, fill=black, draw=black] coordinates {(1,100)};
\addplot[ebar] coordinates {(2,31.7) +- (0,11)};
\end{axis}
\end{tikzpicture}
\end{document}
